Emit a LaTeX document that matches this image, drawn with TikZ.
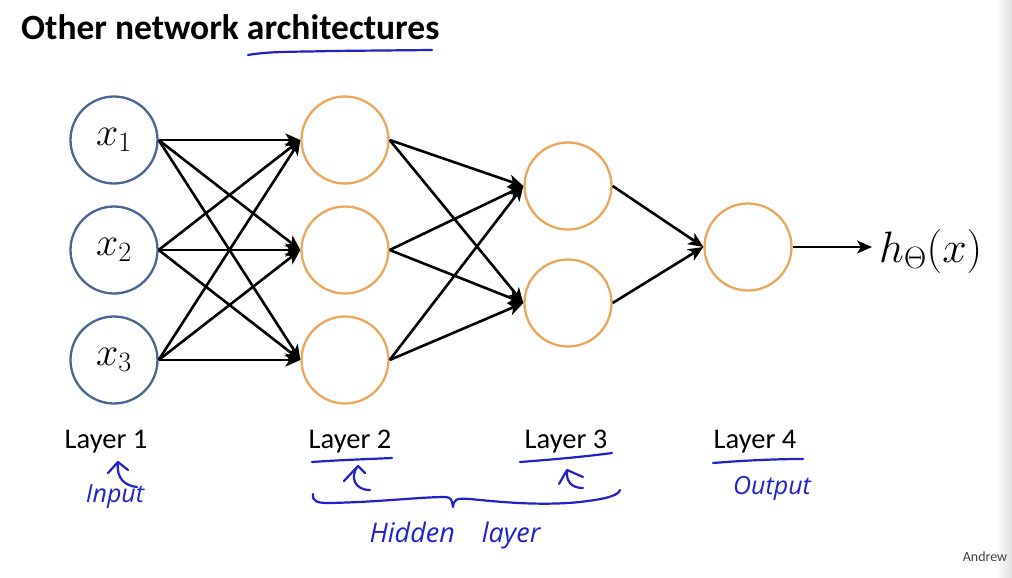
\documentclass[tikz,border=0pt]{standalone}
\usepackage{fix-cm}
\usepackage{fontspec}
\setmainfont{Carlito}
\newfontfamily\handfont{Open Sans}
\usetikzlibrary{arrows.meta}
\definecolor{inblue}{HTML}{4A6591}
\definecolor{hidorange}{HTML}{EDA75C}
\definecolor{pen}{HTML}{1E22C8}
\begin{document}
\begin{tikzpicture}[x=1pt,y=-1pt,
  neuron/.style={circle,minimum size=87pt,inner sep=0pt,line width=2.3pt,font=\fontsize{40}{44}\selectfont},
  inp/.style={neuron,draw=inblue},
  hid/.style={neuron,draw=hidorange},
  conn/.style={line width=2.6pt,-{Stealth[length=15pt,width=13pt,inset=4pt]}},
  lab/.style={font=\fontsize{28.5}{32}\selectfont,inner sep=0pt},
  ink/.style={draw=pen,line width=2.2pt,line cap=round,line join=round},
  hand/.style={text=pen,font=\handfont\itshape\fontsize{25}{28}\selectfont,inner sep=0pt}]
\useasboundingbox (0,0) rectangle (1012,578);
\fill[white] (0,0) rectangle (1012,578);
\shade[left color=white,right color=black!12] (996,0) rectangle (1012,578);
% title
\node[anchor=west,inner sep=0pt,font=\bfseries\fontsize{35.5}{40}\selectfont] (title) at (21,27) {Other network architectures};
% neurons
\node[inp] (x1) at (114,140) {$x_1$};
\node[inp] (x2) at (114,250) {$x_2$};
\node[inp] (x3) at (114,360) {$x_3$};
\node[hid] (a1) at (345,140) {};
\node[hid] (a2) at (345,250) {};
\node[hid] (a3) at (345,360) {};
\node[hid] (b1) at (568,186) {};
\node[hid] (b2) at (568,303) {};
\node[hid] (o) at (748,247) {};
\coordinate (oend) at (872,247);
\node[anchor=west,inner sep=0pt,font=\fontsize{44}{48}\selectfont] (h) at (879,251) {$h_\Theta(x)$};
% connections
\foreach \s in {x1,x2,x3}{\foreach \t in {a1,a2,a3}{\draw[conn] (\s.east) -- (\t.west);}}
\foreach \s in {a1,a2,a3}{\foreach \t in {b1,b2}{\draw[conn] (\s.east) -- (\t.west);}}
\foreach \s in {b1,b2}{\draw[conn] (\s.east) -- (o.west);}
\draw[conn] (o.east) -- (oend);
% layer labels
\node[lab] (l1) at (106,442) {Layer 1};
\node[lab] (l2) at (350,442) {Layer 2};
\node[lab] (l3) at (566,442) {Layer 3};
\node[lab] (l4) at (755,442) {Layer 4};
\node[font=\fontsize{14}{16}\selectfont,text=black!75,inner sep=0pt] (andrew) at (985,557) {Andrew};
% pen annotations
\draw[ink] (248,55) .. controls (270,51) and (300,52) .. (330,51) -- (432,50);
\draw[ink] (312,462) .. controls (340,460) and (370,459) .. (392,458);
\draw[ink] (520,462) .. controls (560,459) and (590,456) .. (612,453);
\draw[ink] (713,463) .. controls (750,460) and (780,459) .. (803,459);
% hooks
\draw[ink] (108,473) -- (118,462) -- (128,470);
\draw[ink] (118,463) .. controls (116,478) and (125,486) .. (137,487);
\draw[ink] (344,481) -- (358,466) -- (365,473);
\draw[ink] (357,467) .. controls (350,478) and (355,490) .. (370,490);
\draw[ink] (559,484) -- (567,470) -- (583,477);
\draw[ink] (567,471) .. controls (566,482) and (572,488) .. (583,488);
% brace
\draw[ink] (313,494) .. controls (312,502) and (318,503) .. (330,503)
  .. controls (380,502) and (420,497) .. (445,497)
  .. controls (451,497) and (452,500) .. (453,507)
  .. controls (454,499) and (456,498) .. (470,499)
  .. controls (500,502) and (540,506) .. (580,502)
  .. controls (605,499) and (618,496) .. (620,490);
% handwritten words
\node[hand] (input) at (115,497) {Input};
\node[hand] (output) at (772,488) {Output};
\node[hand,font=\handfont\itshape\fontsize{27}{30}\selectfont] (hidden) at (455,535) {Hidden\quad layer};
\end{tikzpicture}
\end{document}
